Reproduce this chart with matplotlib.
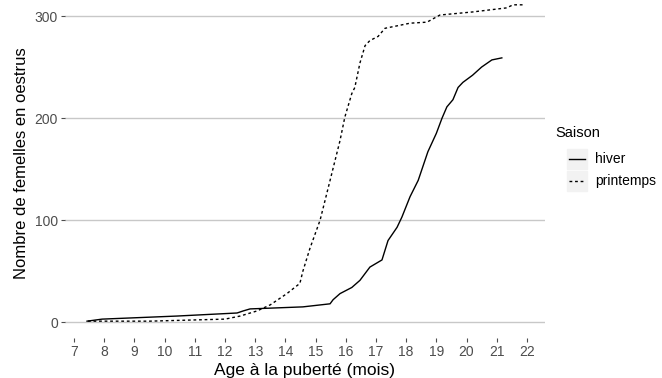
import matplotlib
matplotlib.use("Agg")
from matplotlib import pyplot as plt
from matplotlib.patches import Rectangle
from matplotlib.lines import Line2D

plt.rcParams['font.family'] = ['Liberation Sans', 'DejaVu Sans']

#---------------------------------------------------------------------------
# cumulative counts
hiver_age = [7.43, 7.93, 10.4, 12.4, 12.6, 12.83, 14.58, 15.48, 15.58, 15.81,
             16.2, 16.47, 16.8, 17.2, 17.4, 17.7, 17.86, 18.13, 18.4, 18.72,
             19.0, 19.19, 19.35, 19.55, 19.72, 19.88, 20.2, 20.5, 20.84, 21.17]
hiver_n = [1, 3, 6, 9, 11, 13, 15, 18, 22, 28,
           34, 41, 54, 61, 80, 93, 103, 123, 139, 167,
           185, 200, 211, 218, 230, 235, 242, 250, 257, 259]

printemps_age = [7.46, 8.36, 9.5, 12.0, 12.5, 13.06, 13.5, 14.05, 14.48, 14.58,
                 14.81, 15.15, 15.54, 15.81, 15.97, 16.2, 16.3, 16.47, 16.64, 16.8,
                 17.07, 17.3, 17.8, 18.13, 18.69, 19.12, 20.2, 21.33, 21.54, 21.87]
printemps_n = [1, 1, 1, 3, 6, 11, 17, 28, 38, 50,
               72, 100, 146, 178, 201, 224, 230, 254, 271, 276,
               280, 288, 291, 293, 294, 301, 304, 308, 311, 311]

xticks = list(range(7, 23))
yticks = [0, 100, 200, 300]
grid_col = '#C8C8C8'
text_col = '#4D4D4D'

#---------------------------------------------------------------------------
fig = plt.figure(figsize=(6.62, 3.78), dpi=100)
ax = fig.add_axes([65/662, 40/378, 480/662, 349/378])

ax.plot(hiver_age, hiver_n, color='black', lw=1.0, ls='-', label='hiver')
ax.plot(printemps_age, printemps_n, color='black', lw=1.0, ls=(0, (2, 2)),
        label='printemps')

ax.set_xlim(6.7, 22.6)
ax.set_ylim(-15.5, 326.5)
ax.set_xticks(xticks)
ax.set_yticks(yticks)
for s in ax.spines.values():
    s.set_visible(False)
ax.yaxis.grid(True, color=grid_col, lw=1.0)
ax.xaxis.grid(False)
ax.set_axisbelow(True)
ax.tick_params(axis='both', colors=text_col, labelcolor=text_col, labelsize=10,
               length=3, width=0.8, pad=2)

ax.set_xlabel('Age à la puberté (mois)', fontsize=12.5, labelpad=3)
ax.set_ylabel('Nombre de femelles en oestrus', fontsize=12, labelpad=4)

# legend, drawn by hand in figure pixels (ggplot style keys)
fig.text(555/662, 1 - 133/378, 'Saison', fontsize=10.5, va='center', ha='left')
keys = [('hiver', '-', 159), ('printemps', (0, (2, 2)), 181)]
for lab, style, yc in keys:
    fig.patches.append(Rectangle((567/662, 1 - (yc + 10)/378), 20/662, 20/378,
                                 transform=fig.transFigure, color='#F2F2F2',
                                 zorder=0))
    fig.lines.append(Line2D([569/662, 585/662], [1 - yc/378, 1 - yc/378],
                            transform=fig.transFigure, color='black', lw=1.0,
                            ls=style))
    fig.text(595/662, 1 - yc/378, lab, fontsize=10, va='center', ha='left')

fig.savefig('out.png', dpi=100)
